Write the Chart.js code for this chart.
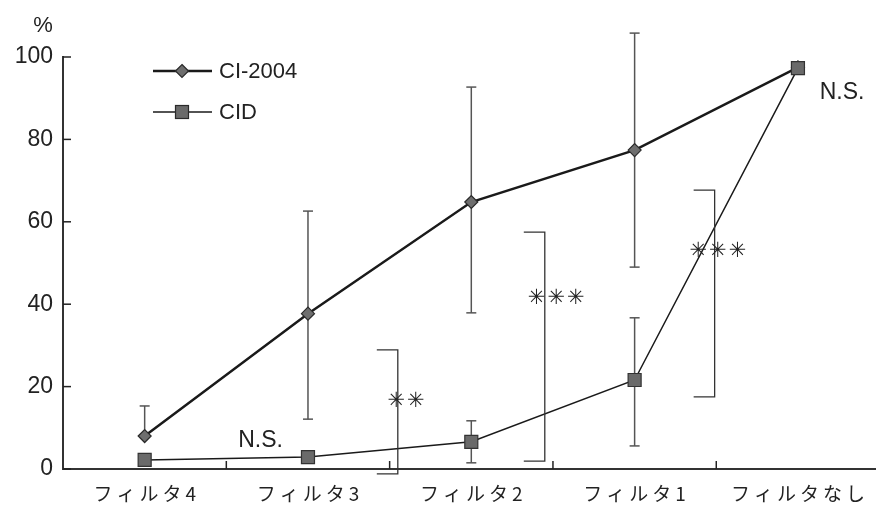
<!DOCTYPE html>
<html>
<head>
<meta charset="utf-8">
<script src="https://cdn.jsdelivr.net/npm/chart.js@4"></script>
<style>
  html, body { margin: 0; padding: 0; background: #fff; overflow: hidden; }
  #wrap { width: 890px; height: 505px; }
</style>
</head>
<body>
<div id="wrap"><canvas id="chart" width="890" height="505"></canvas></div>
<script>
// データ
const categories = ['フィルタ4', 'フィルタ3', 'フィルタ2', 'フィルタ1', 'フィルタなし'];
const yTicks = [0, 20, 40, 60, 80, 100];

const ciMean  = [8.0, 37.7, 64.8, 77.4, 97.5];
const ciUpper = [15.3, 62.6, 92.7, 105.8, null];
const ciLower = [null, 12.1, 37.9, 49.0, null];

const cidMean  = [2.2, 2.9, 6.6, 21.6, 97.3];
const cidUpper = [null, null, 11.7, 36.7, null];
const cidLower = [null, null, 1.5, 5.6, null];

// 有意差ブラケット
const sigX = [1.55, 2.45, 3.49];
const sigLow = [-1.2, 1.9, 17.5];
const sigHigh = [28.9, 57.5, 67.7];
const sigLabels = ['✳✳', '✳✳✳', '✳✳✳'];
const sigLabelX = [1.60, 2.52, 3.51];
const sigLabelY = [16.3, 41.3, 52.9];

const nsX = [0.71, 4.27];
const nsY = [6.9, 91.3];

const INK = '#222';

function line(ctx, x1, y1, x2, y2) {
  ctx.beginPath();
  ctx.moveTo(x1, y1);
  ctx.lineTo(x2, y2);
  ctx.stroke();
}

function errorBars(ctx, xs, ys, mean, upper, lower) {
  mean.forEach((m, i) => {
    const x = xs.getPixelForValue(i);
    const ym = ys.getPixelForValue(m);
    [upper[i], lower[i]].forEach(v => {
      if (v === null) return;
      const y = ys.getPixelForValue(v);
      line(ctx, x, ym, x, y);
      line(ctx, x - 5, y, x + 5, y);
    });
  });
}

const annotate = {
  id: 'annotate',
  beforeDatasetsDraw(chart) {
    const ctx = chart.ctx;
    const xs = chart.scales.x, ys = chart.scales.y;
    ctx.save();
    ctx.strokeStyle = '#555';
    ctx.lineWidth = 1.5;
    errorBars(ctx, xs, ys, ciMean, ciUpper, ciLower);
    errorBars(ctx, xs, ys, cidMean, cidUpper, cidLower);
    ctx.restore();
  },
  afterDatasetsDraw(chart) {
    const ctx = chart.ctx;
    const xs = chart.scales.x, ys = chart.scales.y;
    const area = chart.chartArea;
    ctx.save();
    ctx.strokeStyle = INK;
    ctx.fillStyle = INK;

    // 軸目盛（内向き）
    ctx.lineWidth = 1.5;
    yTicks.forEach(v => {
      const y = ys.getPixelForValue(v);
      line(ctx, area.left, y, area.left + 8, y);
    });
    for (let i = 0; i < categories.length - 1; i++) {
      const b = (xs.getPixelForValue(i) + xs.getPixelForValue(i + 1)) / 2;
      line(ctx, b, area.bottom, b, area.bottom - 8);
    }

    // ブラケット
    ctx.lineWidth = 1.3;
    ctx.strokeStyle = '#333';
    sigX.forEach((sx, i) => {
      const x = xs.getPixelForValue(sx);
      const y1 = ys.getPixelForValue(sigHigh[i]);
      const y2 = ys.getPixelForValue(sigLow[i]);
      ctx.beginPath();
      ctx.moveTo(x - 21, y1);
      ctx.lineTo(x, y1);
      ctx.lineTo(x, y2);
      ctx.lineTo(x - 21, y2);
      ctx.stroke();
    });

    ctx.textAlign = 'center';
    ctx.textBaseline = 'middle';
    ctx.font = '21px "DejaVu Sans"';
    ctx.letterSpacing = '2px';
    sigLabels.forEach((t, i) => {
      ctx.fillText(t, xs.getPixelForValue(sigLabelX[i]) + 1, ys.getPixelForValue(sigLabelY[i]));
    });
    ctx.letterSpacing = '0px';

    ctx.font = '23px "Liberation Sans", Arial, sans-serif';
    nsX.forEach((nx, i) => {
      ctx.fillText('N.S.', xs.getPixelForValue(nx), ys.getPixelForValue(nsY[i]));
    });

    // % 単位
    ctx.font = '22px "Liberation Sans", Arial, sans-serif';
    ctx.fillText('%', area.left - 20, area.top - 31);

    // x ラベル
    ctx.font = '19px "Noto Sans CJK JP", sans-serif';
    ctx.letterSpacing = '4px';
    categories.forEach((c, i) => {
      ctx.fillText(c, xs.getPixelForValue(i) + 2, area.bottom + 25);
    });
    ctx.letterSpacing = '0px';

    // 凡例
    const lx = area.left + 90, lw = 59;
    const ly1 = area.top + 14, ly2 = area.top + 55;
    ctx.strokeStyle = '#1a1a1a';
    ctx.lineWidth = 2.5;
    line(ctx, lx, ly1, lx + lw, ly1);
    ctx.lineWidth = 1.5;
    line(ctx, lx, ly2, lx + lw, ly2);

    const mx = lx + 29;
    ctx.fillStyle = '#6e6e6e';
    ctx.strokeStyle = '#2a2a2a';
    ctx.lineWidth = 1.2;
    ctx.beginPath();
    ctx.moveTo(mx, ly1 - 6.5);
    ctx.lineTo(mx + 6.5, ly1);
    ctx.lineTo(mx, ly1 + 6.5);
    ctx.lineTo(mx - 6.5, ly1);
    ctx.closePath();
    ctx.fill();
    ctx.stroke();
    ctx.fillStyle = '#6a6a6a';
    ctx.fillRect(mx - 6.5, ly2 - 6.5, 13, 13);
    ctx.strokeRect(mx - 6.5, ly2 - 6.5, 13, 13);

    ctx.fillStyle = INK;
    ctx.textAlign = 'left';
    ctx.font = '22px "Liberation Sans", Arial, sans-serif';
    ctx.fillText('CI-2004', lx + 66, ly1 + 1);
    ctx.fillText('CID', lx + 66, ly2 + 1);
    ctx.restore();
  }
};

new Chart(document.getElementById('chart'), {
  type: 'line',
  data: {
    labels: categories,
    datasets: [
      {
        label: 'CI-2004',
        data: ciMean,
        order: 1,
        borderColor: '#1a1a1a',
        borderWidth: 2.5,
        pointStyle: 'rectRot',
        pointRadius: 6.5,
        pointBackgroundColor: '#6e6e6e',
        pointBorderColor: '#2a2a2a',
        pointBorderWidth: 1.2,
        tension: 0,
        clip: false
      },
      {
        label: 'CID',
        data: cidMean,
        order: 0,
        borderColor: '#1a1a1a',
        borderWidth: 1.5,
        pointStyle: 'rect',
        pointRadius: 9.2,
        pointBackgroundColor: '#6a6a6a',
        pointBorderColor: '#333',
        pointBorderWidth: 1.2,
        tension: 0,
        clip: false
      }
    ]
  },
  options: {
    responsive: false,
    animation: false,
    layout: { padding: { top: 57, right: 0, bottom: 0, left: 0 } },
    plugins: { legend: { display: false }, tooltip: { enabled: false } },
    scales: {
      x: {
        type: 'category',
        offset: true,
        grid: { display: false },
        ticks: { display: false },
        border: { display: true, color: '#333', width: 2 },
        afterFit: s => { s.height = 36; }
      },
      y: {
        min: 0,
        max: 100,
        afterBuildTicks: s => { s.ticks = yTicks.map(v => ({ value: v })); },
        ticks: {
          color: INK,
          padding: 10,
          font: { family: '"Liberation Sans", Arial, sans-serif', size: 23 }
        },
        grid: { display: false, drawTicks: false },
        border: { display: true, color: '#333', width: 2 },
        afterFit: s => { s.width = 63; }
      }
    }
  },
  plugins: [annotate]
});
</script>
</body>
</html>
